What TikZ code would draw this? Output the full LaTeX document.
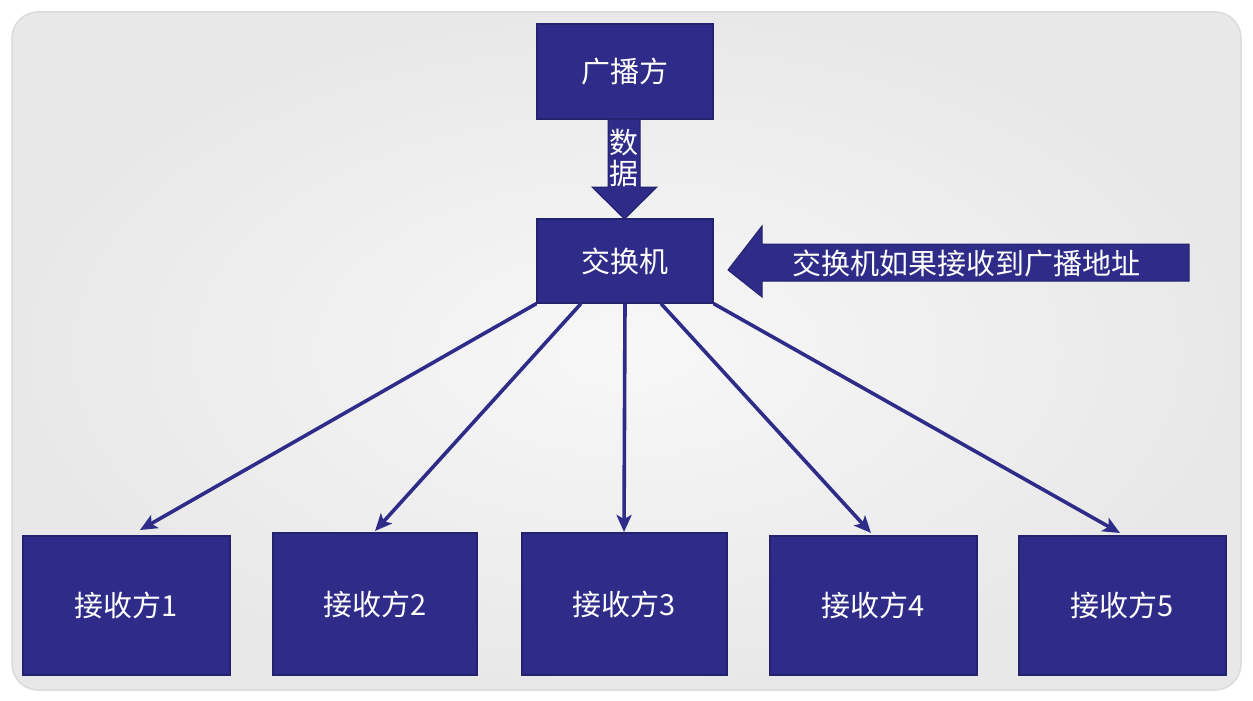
\documentclass[tikz,border=0pt]{standalone}
\usepackage{fontspec}
\setmainfont{Noto Sans CJK SC}
\usetikzlibrary{arrows.meta,calc}
\definecolor{navy}{RGB}{46,44,136}
\definecolor{navyline}{RGB}{36,34,110}
\begin{document}
\begin{tikzpicture}[x=1pt,y=-1pt,
  lbl/.style={text=white,font=\fontsize{29}{32}\selectfont,inner sep=0pt},
  box/.style={lbl,draw=navyline,line width=1.2pt,fill=navy},
  link/.style={draw=navy,line width=3.6pt,-{Stealth[length=17pt,width=15pt,inset=4pt]}},
  blockarrow/.style={fill=navy,draw=navyline,line width=1pt}]
\useasboundingbox (0,0) rectangle (1253,701);
\fill[white] (0,0) rectangle (1253,701);
\shade[inner color=white!97!black,outer color=white!91!black,rounded corners=26pt,draw=white!86!black,line width=1.5pt]
  (12,12) rectangle (1241,690);
% boxes
\node[box,minimum width=176pt,minimum height=95pt] (src) at (625,71.5) {广播方};
\node[box,minimum width=176pt,minimum height=84pt] (sw) at (625,261) {交换机};
\node[box,minimum width=207pt,minimum height=139pt] (r1) at (126.5,605.5) {接收方1};
\node[box,minimum width=204pt,minimum height=142pt] (r2) at (375,604) {接收方2};
\node[box,minimum width=205pt,minimum height=142pt] (r3) at (624.5,604) {接收方3};
\node[box,minimum width=207pt,minimum height=139pt] (r4) at (873.5,605.5) {接收方4};
\node[box,minimum width=207pt,minimum height=139pt] (r5) at (1122.5,605.5) {接收方5};
% down block arrow
\draw[blockarrow] (608,119) -- (640,119) -- (640,187) -- (657,187) -- (624.5,219) -- (592,187) -- (608,187) -- cycle;
\node[lbl,align=center,font=\fontsize{29}{31}\selectfont] (data) at (624,158) {数\\据};
% left block arrow
\draw[blockarrow] (728,270) -- (762,226) -- (762,244) -- (1189,244) -- (1189,281) -- (762,281) -- (762,297) -- cycle;
\node[lbl] (note) at (966,263) {交换机如果接收到广播地址};
% connectors
\coordinate (e1) at (140,530);
\coordinate (e2) at (375,531);
\coordinate (e3) at (624,532);
\coordinate (e4) at (871,533);
\coordinate (e5) at (1120,533);
\draw[link] (sw.south west) -- (e1);
\draw[link] ($(sw.south)+(-44,0)$) -- (e2);
\draw[link] (sw.south) -- (e3);
\draw[link] ($(sw.south)+(36,0)$) -- (e4);
\draw[link] (sw.south east) -- (e5);
\end{tikzpicture}
\end{document}
